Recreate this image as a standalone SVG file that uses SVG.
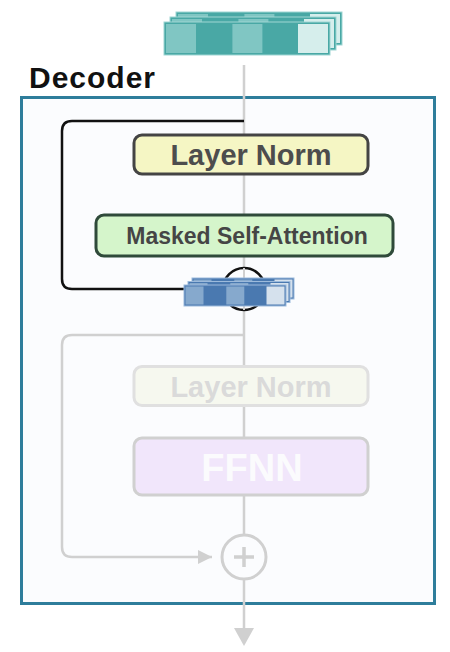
<svg xmlns="http://www.w3.org/2000/svg" xmlns:xlink="http://www.w3.org/1999/xlink" width="450" height="652" viewBox="0 0 450 652">
<style>
.lbl{font-family:"Liberation Sans",Arial,sans-serif;font-weight:bold;text-anchor:middle}
.gline{fill:none;stroke:#d0d0d0;stroke-width:2.5}
.bline{fill:none;stroke:#111;stroke-width:2.5}
</style>
<defs>
<g id="tealrow">
<rect x="0" y="0" width="166" height="33" fill="#49a8a5" stroke="#9fd6d3" stroke-width="1"/>
<rect x="2" y="2" width="30" height="29" fill="#80c6c3"/>
<rect x="68.4" y="2" width="30" height="29" fill="#80c6c3"/>
<rect x="134" y="2" width="30" height="29" fill="#d6eeec"/>
</g>
<g id="bluerow">
<rect x="0" y="0" width="102" height="21" fill="#4a79b0" stroke="#9cbadb" stroke-width="1"/>
<rect x="1.5" y="1.5" width="18" height="18" fill="#86a9cd"/>
<rect x="42.3" y="1.5" width="18" height="18" fill="#86a9cd"/>
<rect x="82.5" y="1.5" width="18" height="18" fill="#d5e1ed"/>
</g>
<marker id="garrow" viewBox="0 0 10 10" refX="10" refY="5" markerWidth="14" markerHeight="14" markerUnits="userSpaceOnUse" orient="auto">
<path d="M0,0 L10,5 L0,10 z" fill="#d0d0d0"/>
</marker>
</defs>
<rect width="450" height="652" fill="#ffffff"/>
<g id="decoder">
<rect x="21.5" y="97.5" width="413" height="506" fill="#fbfcfe" stroke="#2e7d9b" stroke-width="3"/>
<text class="lbl" x="29" y="88" font-size="30" fill="#111" style="text-anchor:start" textLength="126" lengthAdjust="spacing">Decoder</text>
</g>
<g id="connectors">
<line class="gline" x1="244" y1="65" x2="244" y2="630"/>
<path d="M234,628 L254,628 L244,646 z" fill="#d0d0d0"/>
<path class="bline" d="M244,121 H72 Q62,121 62,131 V279 Q62,289 72,289 H190"/>
<path class="gline" d="M244,335 H72 Q62,335 62,345 V547 Q62,557 72,557 H212" marker-end="url(#garrow)"/>
</g>
<g id="add1">
<circle cx="244" cy="289" r="21" fill="#fbfcfe" stroke="#111" stroke-width="2.5"/>
<line x1="244" y1="268" x2="244" y2="310" stroke="#d0d0d0" stroke-width="2"/>
</g>
<g id="add2">
<circle cx="244" cy="557" r="22" fill="#fbfcfe" stroke="#d0d0d0" stroke-width="3"/>
<path d="M234,557 H254 M244,547 V567" stroke="#d0d0d0" stroke-width="3.5"/>
</g>
<g id="input">
<use xlink:href="#tealrow" x="176" y="12"/>
<use xlink:href="#tealrow" x="170" y="17"/>
<use xlink:href="#tealrow" x="164" y="22"/>
</g>
<g id="layernorm1">
<rect x="134" y="135" width="234" height="39" rx="8" fill="#f5f6c4" stroke="#444" stroke-width="3"/>
<text class="lbl" x="251" y="165" font-size="29" fill="#4d4d4d">Layer Norm</text>
</g>
<g id="attention">
<rect x="96" y="215" width="297" height="41" rx="8" fill="#d5f5cb" stroke="#2f4a3a" stroke-width="3"/>
<text class="lbl" x="247" y="243.5" font-size="23" fill="#454545">Masked Self-Attention</text>
</g>
<g id="attnout">
<use xlink:href="#bluerow" x="192" y="278"/>
<use xlink:href="#bluerow" x="188" y="281.5"/>
<use xlink:href="#bluerow" x="184" y="285"/>
</g>
<g id="layernorm2">
<rect x="134" y="366.5" width="234" height="39" rx="8" fill="#f6f8ef" stroke="#e0e0e0" stroke-width="3"/>
<text class="lbl" x="251" y="397" font-size="29" fill="#dadada">Layer Norm</text>
</g>
<g id="ffnn">
<rect x="134" y="438" width="234" height="57" rx="8" fill="#f1e6fb" stroke="#d0d0d0" stroke-width="3"/>
<text class="lbl" x="252" y="481" font-size="38" fill="#fbfbfd">FFNN</text>
</g>
</svg>
